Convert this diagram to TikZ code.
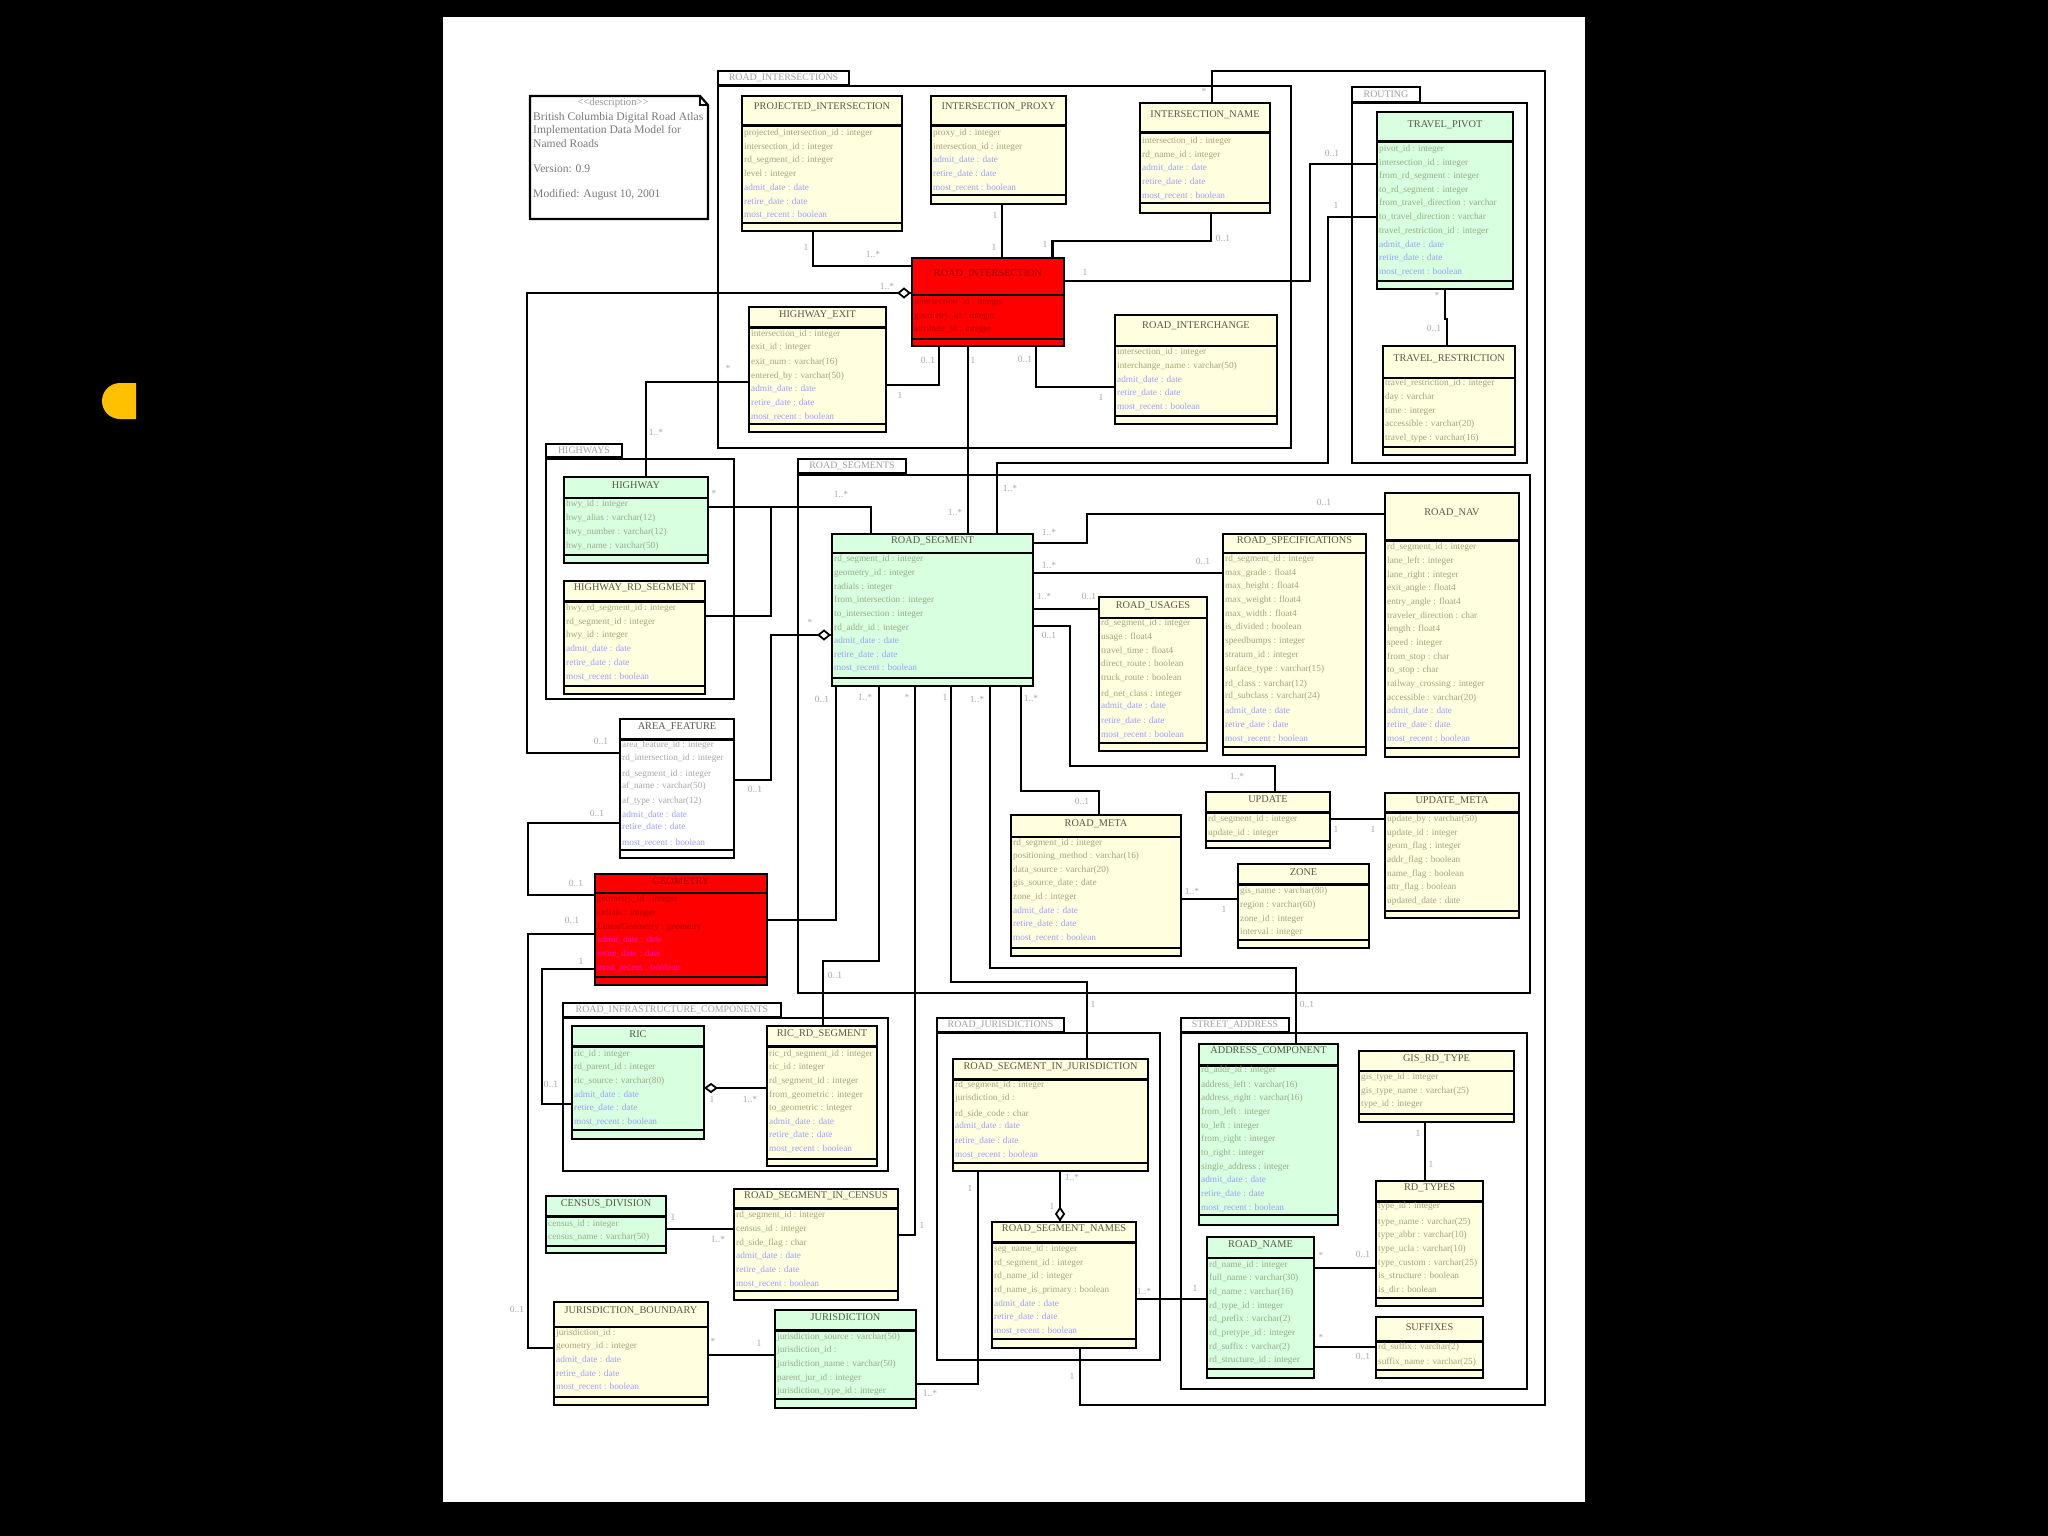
\documentclass[tikz,border=0pt]{standalone}
\usepackage{fontspec}
\setmainfont{Liberation Serif}
\usetikzlibrary{shapes.geometric}
\definecolor{yelf}{HTML}{FFFFE0}
\definecolor{grnf}{HTML}{D8FFE0}
\definecolor{yatt}{HTML}{A4A482}
\definecolor{gatt}{HTML}{98AC88}
\definecolor{watt}{HTML}{A8A8A8}
\definecolor{ratt}{HTML}{B00000}
\definecolor{badm}{HTML}{9C9CFF}
\definecolor{radm}{HTML}{F000F0}
\definecolor{ttlc}{HTML}{58584A}
\definecolor{rttl}{HTML}{980000}
\definecolor{lblc}{HTML}{A8A8A8}
\definecolor{pkgc}{HTML}{A0A0A0}
\tikzset{
  classbox/.style={rectangle,draw=black,line width=2.4pt,inner sep=0pt,outer sep=0pt},
  pkgbox/.style={rectangle,draw=black,line width=2.2pt,inner sep=0pt,outer sep=0pt},
  conn/.style={draw=black,line width=2.1pt,line cap=butt,line join=miter},
  aggr/.style={diamond,draw=black,line width=1.8pt,fill=white,inner sep=0pt,outer sep=0pt},
  ttl/.style={inner sep=0pt,font=\fontsize{10.3}{11}\selectfont},
  atr/.style={inner sep=0pt,anchor=west,font=\fontsize{9.3}{10}\selectfont},
  lbl/.style={inner sep=0pt,text=lblc,font=\fontsize{9.5}{10}\selectfont},
  pkgt/.style={text=pkgc,font=\fontsize{9.9}{11}\selectfont},
  notet/.style={inner sep=0pt,anchor=west,text=black!52,font=\fontsize{11.6}{13}\selectfont}
}
\newcount\txtn
\newcommand\nexttxt{\global\advance\txtn by 1 }
\newcommand\themeY{\def\fc{yelf}\def\ac{yatt}\def\dc{badm}\def\tc{ttlc}}
\newcommand\themeG{\def\fc{grnf}\def\ac{gatt}\def\dc{badm}\def\tc{ttlc}}
\newcommand\themeW{\def\fc{white}\def\ac{watt}\def\dc{badm}\def\tc{ttlc}}
\newcommand\themeR{\def\fc{red}\def\ac{ratt}\def\dc{radm}\def\tc{rttl}}
\def\tlw{3pt}
\newcommand\thinT{\def\tlw{1.6pt}}
\newcommand\cls[9][\themeY]{#1\def\cn{#2}\def\xa{#3}\def\ya{#4}\def\xb{#5}\def\yb{#6}\def\ty{#7}\def\ly{#8}\def\by{#9}\clsB}
\newcommand\clsB[2]{%
  \node[classbox,fill=\fc,minimum width={(\xb-\xa)*1pt},minimum height={(\yb-\ya)*1pt}] (\cn) at ({(\xa+\xb)/2},{(\ya+\yb)/2}) {};
  \draw[black,line width=\tlw] (\cn.west |- 0,\ly) -- (\cn.east |- 0,\ly);
  \draw[black,line width=1.8pt] (\cn.west |- 0,\by) -- (\cn.east |- 0,\by);
  \nexttxt\node[ttl,text=\tc] (t\the\txtn) at (\cn.north |- 0,\ty) {#1};
  #2
  \def\tlw{3pt}}
\newcommand\ATR[2]{\nexttxt\node[atr,text=\ac] (t\the\txtn) at ({\xa+2},#1) {#2};}
\newcommand\ADM[2]{\nexttxt\node[atr,text=\dc] (t\the\txtn) at ({\xa+2},#1) {#2};}
\newcommand\ADMS[3]{\ADM{#1}{admit\_date : date}\ADM{#2}{retire\_date : date}\ADM{#3}{most\_recent : boolean}}
\newcommand\pkg[9]{% name tab x0 y0 x1 y1, body x1 ytop ybottom, title
  \node[pkgbox,fill=white,minimum width={(#4-#2)*1pt},minimum height={(#5-#3)*1pt},pkgt] (#1tab) at ({(#2+#4)/2},{(#3+#5)/2}) {#9};
  \node[pkgbox,minimum width={(#6-#2)*1pt},minimum height={(#8-#7)*1pt}] (#1) at ({(#2+#6)/2},{(#7+#8)/2}) {};}
\newcommand\LB[3]{\nexttxt\node[lbl] (t\the\txtn) at (#1,#2) {#3};}
\begin{document}
\catcode`\_=12
\begin{tikzpicture}[x=1pt,y=-1pt]
\useasboundingbox (0,0) rectangle (2048,1536);
\fill[black] (0,0) rectangle (2048,1536);
\fill[white] (443,17) rectangle (1585,1502);
\definecolor{blobc}{HTML}{FFC000}
\fill[blobc] (136,383) -- (120,383) arc[start angle=270,end angle=90,radius=18] -- (136,419) -- cycle;

% note
\draw[black,line width=2.2pt,fill=white] (530,96) -- (700,96) -- (708,105) -- (708,219) -- (530,219) -- cycle;
\draw[black,line width=1.6pt] (700,96) -- (700,105) -- (708,105);
\node[inner sep=0pt,text=black!42,font=\fontsize{10.6}{12}\selectfont] (n0) at (613,103) {{<}{<}description{>}{>}};
\node[notet] (n1) at (533,118) {British Columbia Digital Road Atlas};
\node[notet] (n2) at (533,131) {Implementation Data Model for};
\node[notet] (n3) at (533,144) {Named Roads};
\node[notet] (n4) at (533,169) {Version: 0.9};
\node[notet] (n5) at (533,195) {Modified: August 10, 2001};

% packages
\pkg{pkint}{718}{71}{849}{85}{1291}{86}{448}{ROAD_INTERSECTIONS}
\pkg{pkrout}{1352}{87}{1420}{102}{1527}{103}{463}{ROUTING}
\pkg{pkhwy}{546}{444}{622}{457}{734}{459}{699}{HIGHWAYS}
\pkg{pkseg}{798}{459}{906}{473}{1530}{475}{993}{ROAD_SEGMENTS}
\pkg{pkinf}{563}{1003}{781}{1017}{888}{1018}{1171}{ROAD_INFRASTRUCTURE_COMPONENTS}
\pkg{pkjur}{937}{1018}{1064}{1032}{1160}{1033}{1360}{ROAD_JURISDICTIONS}
\pkg{pkadr}{1181}{1018}{1289}{1032}{1527}{1033}{1389}{STREET_ADDRESS}

% classes
\cls{cPI}{742}{96}{902}{231}{107}{126}{223}{PROJECTED_INTERSECTION}{\ATR{133}{projected_intersection_id : integer}\ATR{147}{intersection_id : integer}\ATR{160}{rd_segment_id : integer}\ATR{174}{level : integer}\ADMS{188}{202}{215}}
\cls{cPX}{931}{96}{1066}{204}{107}{126}{195}{INTERSECTION_PROXY}{\ATR{133}{proxy_id : integer}\ATR{147}{intersection_id : integer}\ADMS{160}{174}{188}}
\cls{cIN}{1140}{103}{1270}{213}{115}{133}{203}{INTERSECTION_NAME}{\ATR{141}{intersection_id : integer}\ATR{155}{rd_name_id : integer}\ADMS{168}{182}{196}}
\thinT\cls[\themeR]{cRI}{912}{258}{1064}{346}{274}{295}{339}{ROAD_INTERSECTION}{\ATR{302}{intersection_id : integer}\ATR{316}{geometry_id : integer}\ATR{329}{attribute_id : integer}}
\cls{cHE}{749}{307}{886}{432}{315}{327}{424}{HIGHWAY_EXIT}{\ATR{334}{intersection_id : integer}\ATR{347}{exit_id : integer}\ATR{362}{exit_num : varchar(16)}\ATR{376}{entered_by : varchar(50)}\ADMS{389}{403}{417}}
\thinT\cls{cIC}{1115}{315}{1277}{424}{326}{346}{416}{ROAD_INTERCHANGE}{\ATR{352}{intersection_id : integer}\ATR{366}{interchange_name : varchar(50)}\ADMS{380}{393}{407}}
\cls[\themeG]{cTP}{1377}{112}{1513}{289}{125}{142}{281}{TRAVEL_PIVOT}{\ATR{149}{pivot_id : integer}\ATR{163}{intersection_id : integer}\ATR{176}{from_rd_segment : integer}\ATR{190}{to_rd_segment : integer}\ATR{203}{from_travel_direction : varchar}\ATR{217}{to_travel_direction : varchar}\ATR{231}{travel_restriction_id : integer}\ADMS{245}{258}{272}}
\thinT\cls{cTR}{1383}{346}{1515}{455}{359}{378}{447}{TRAVEL_RESTRICTION}{\ATR{383}{travel_restriction_id : integer}\ATR{397}{day : varchar}\ATR{411}{time : integer}\ATR{424}{accessible : varchar(20)}\ATR{438}{travel_type : varchar(16)}}
\thinT\cls[\themeG]{cHW}{564}{477}{708}{563}{485}{498}{555}{HIGHWAY}{\ATR{504}{hwy_id : integer}\ATR{518}{hwy_alias : varchar(12)}\ATR{532}{hwy_number : varchar(12)}\ATR{546}{hwy_name : varchar(50)}}
\cls{cHS}{564}{581}{705}{694}{588}{601}{686}{HIGHWAY_RD_SEGMENT}{\ATR{608}{hwy_rd_segment_id : integer}\ATR{622}{rd_segment_id : integer}\ATR{635}{hwy_id : integer}\ADMS{649}{663}{677}}
\thinT\cls[\themeG]{cRS}{832}{534}{1033}{686}{541}{553}{678}{ROAD_SEGMENT}{\ATR{559}{rd_segment_id : integer}\ATR{573}{geometry_id : integer}\ATR{587}{radials : integer}\ATR{600}{from_intersection : integer}\ATR{614}{to_intersection : integer}\ATR{628}{rd_addr_id : integer}\ADMS{641}{655}{668}}
\cls[\themeW]{cAF}{620}{719}{734}{858}{727}{739}{850}{AREA_FEATURE}{\ATR{745}{area_feature_id : integer}\ATR{758}{rd_intersection_id : integer}\ATR{774}{rd_segment_id : integer}\ATR{786}{af_name : varchar(50)}\ATR{801}{af_type : varchar(12)}\ADMS{815}{827}{843}}
\cls{cRN}{1385}{493}{1519}{757}{513}{540}{748}{ROAD_NAV}{\ATR{547}{rd_segment_id : integer}\ATR{561}{lane_left : integer}\ATR{575}{lane_right : integer}\ATR{588}{exit_angle : float4}\ATR{602}{entry_angle : float4}\ATR{616}{traveler_direction : char}\ATR{629}{length : float4}\ATR{643}{speed : integer}\ATR{657}{from_stop : char}\ATR{670}{to_stop : char}\ATR{684}{railway_crossing : integer}\ATR{698}{accessible : varchar(20)}\ADMS{711}{725}{739}}
\thinT\cls{cSP}{1223}{534}{1366}{755}{541}{553}{747}{ROAD_SPECIFICATIONS}{\ATR{559}{rd_segment_id : integer}\ATR{573}{max_grade : float4}\ATR{586}{max_height : float4}\ATR{600}{max_weight : float4}\ATR{614}{max_width : float4}\ATR{627}{is_divided : boolean}\ATR{641}{speedbumps : integer}\ATR{655}{stratum_id : integer}\ATR{669}{surface_type : varchar(15)}\ATR{684}{rd_class : varchar(12)}\ATR{696}{rd_subclass : varchar(24)}\ADMS{711}{725}{739}}
\thinT\cls{cUS}{1099}{597}{1207}{751}{606}{618}{743}{ROAD_USAGES}{\ATR{623}{rd_segment_id : integer}\ATR{637}{usage : float4}\ATR{651}{travel_time : float4}\ATR{664}{direct_route : boolean}\ATR{678}{truck_route : boolean}\ATR{694}{rd_net_class : integer}\ADMS{706}{721}{735}}
\cls{cUP}{1206}{792}{1330}{848}{799}{812}{841}{UPDATE}{\ATR{819}{rd_segment_id : integer}\ATR{833}{update_id : integer}}
\cls{cUM}{1385}{793}{1519}{918}{801}{812}{911}{UPDATE_META}{\ATR{819}{update_by : varchar(50)}\ATR{833}{update_id : integer}\ATR{846}{geom_flag : integer}\ATR{860}{addr_flag : boolean}\ATR{874}{name_flag : boolean}\ATR{887}{attr_flag : boolean}\ATR{901}{updated_date : date}}
\cls{cZN}{1238}{864}{1369}{948}{872}{884}{940}{ZONE}{\ATR{891}{gis_name : varchar(80)}\ATR{905}{region : varchar(60)}\ATR{919}{zone_id : integer}\ATR{932}{interval : integer}}
\thinT\cls{cRM}{1011}{815}{1181}{956}{824}{837}{948}{ROAD_META}{\ATR{843}{rd_segment_id : integer}\ATR{856}{positioning_method : varchar(16)}\ATR{870}{data_source : varchar(20)}\ATR{883}{gis_source_date : date}\ATR{897}{zone_id : integer}\ADMS{911}{924}{938}}
\thinT\cls[\themeR]{cGE}{595}{874}{767}{985}{881}{893}{977}{GEOMETRY}{\ATR{899}{geometry_id : integer}\ATR{913}{radials : integer}\ATR{927}{LinearGeometry : geometry}\ADMS{940}{954}{968}}
\cls[\themeG]{cRC}{572}{1026}{704}{1139}{1034}{1046}{1130}{RIC}{\ATR{1054}{ric_id : integer}\ATR{1067}{rd_parent_id : integer}\ATR{1081}{ric_source : varchar(80)}\ADMS{1095}{1108}{1122}}
\cls{cRR}{767}{1026}{877}{1166}{1034}{1046}{1159}{RIC_RD_SEGMENT}{\ATR{1054}{ric_rd_segment_id : integer}\ATR{1067}{ric_id : integer}\ATR{1081}{rd_segment_id : integer}\ATR{1095}{from_geometric : integer}\ATR{1108}{to_geometric : integer}\ADMS{1122}{1135}{1149}}
\cls[\themeG]{cCD}{546}{1196}{666}{1253}{1204}{1216}{1246}{CENSUS_DIVISION}{\ATR{1224}{census_id : integer}\ATR{1237}{census_name : varchar(50)}}
\cls{cSC}{734}{1189}{898}{1300}{1196}{1208}{1291}{ROAD_SEGMENT_IN_CENSUS}{\ATR{1215}{rd_segment_id : integer}\ATR{1229}{census_id : integer}\ATR{1243}{rd_side_flag : char}\ADMS{1256}{1270}{1284}}
\thinT\cls{cJB}{554}{1302}{708}{1405}{1311}{1327}{1397}{JURISDICTION_BOUNDARY}{\ATR{1333}{jurisdiction_id :}\ATR{1346}{geometry_id : integer}\ADMS{1360}{1374}{1387}}
\cls[\themeG]{cJU}{775}{1310}{916}{1408}{1317}{1330}{1399}{JURISDICTION}{\ATR{1337}{jurisdiction_source : varchar(50)}\ATR{1350}{jurisdiction_id :}\ATR{1364}{jurisdiction_name : varchar(50)}\ATR{1378}{parent_jur_id : integer}\ATR{1391}{jurisdiction_type_id : integer}}
\cls{cSJ}{953}{1059}{1148}{1171}{1067}{1079}{1163}{ROAD_SEGMENT_IN_JURISDICTION}{\ATR{1085}{rd_segment_id : integer}\ATR{1098}{jurisdiction_id :}\ATR{1114}{rd_side_code : char}\ADMS{1126}{1141}{1155}}
\cls{cSN}{992}{1222}{1136}{1348}{1229}{1242}{1339}{ROAD_SEGMENT_NAMES}{\ATR{1249}{seg_name_id : integer}\ATR{1263}{rd_segment_id : integer}\ATR{1276}{rd_name_id : integer}\ATR{1290}{rd_name_is_primary : boolean}\ADMS{1304}{1317}{1331}}
\cls[\themeG]{cAC}{1199}{1044}{1338}{1225}{1051}{1065}{1215}{ADDRESS_COMPONENT}{\ATR{1070}{rd_addr_id : integer}\ATR{1085}{address_left : varchar(16)}\ATR{1098}{address_right : varchar(16)}\ATR{1112}{from_left : integer}\ATR{1126}{to_left : integer}\ATR{1139}{from_right : integer}\ATR{1153}{to_right : integer}\ATR{1167}{single_address : integer}\ADMS{1180}{1194}{1208}}
\thinT\cls{cGT}{1359}{1051}{1514}{1122}{1059}{1071}{1114}{GIS_RD_TYPE}{\ATR{1077}{gis_type_id : integer}\ATR{1091}{gis_type_name : varchar(25)}\ATR{1104}{type_id : integer}}
\cls{cRT}{1376}{1181}{1483}{1306}{1188}{1201}{1298}{RD_TYPES}{\ATR{1206}{type_id : integer}\ATR{1222}{type_name : varchar(25)}\ATR{1235}{type_abbr : varchar(10)}\ATR{1249}{type_ucla : varchar(10)}\ATR{1263}{type_custom : varchar(25)}\ATR{1276}{is_structure : boolean}\ATR{1290}{is_dir : boolean}}
\cls{cSF}{1376}{1317}{1483}{1378}{1327}{1341}{1370}{SUFFIXES}{\ATR{1347}{rd_suffix : varchar(2)}\ATR{1362}{suffix_name : varchar(25)}}
\thinT\cls[\themeG]{cNM}{1207}{1237}{1314}{1378}{1245}{1258}{1369}{ROAD_NAME}{\ATR{1265}{rd_name_id : integer}\ATR{1278}{full_name : varchar(30)}\ATR{1292}{rd_name : varchar(16)}\ATR{1306}{rd_type_id : integer}\ATR{1319}{rd_prefix : varchar(2)}\ATR{1333}{rd_pretype_id : integer}\ATR{1347}{rd_suffix : varchar(2)}\ATR{1360}{rd_structure_id : integer}}

% aggregation diamonds
\node[aggr,minimum width=11pt,minimum height=9pt] (dA) at (904,293) {};
\node[aggr,minimum width=11pt,minimum height=9pt] (dB) at (824,635) {};
\node[aggr,minimum width=11pt,minimum height=8pt] (dC) at (711,1088) {};
\node[aggr,minimum width=8pt,minimum height=12pt] (dD) at (1060,1214) {};
\coordinate (jA) at (771,507);

% connectors
\draw[conn] (cPI.south -| 813,0) -- (813,266) -- (cRI.west |- 0,266);
\draw[conn] (cPX.south -| 1002,0) -- (cRI.north -| 1002,0);
\draw[conn] (cRI.north -| 1052.5,0) -- (1052.5,241) -- (1211,241) -- (cIN.south -| 1211,0);
\draw[conn] (cRI.east |- 0,281) -- (1310,281) -- (1310,164) -- (cTP.west |- 0,164);
\draw[conn] (cRS.north -| 997,0) -- (997,463) -- (1328,463) -- (1328,217) -- (cTP.west |- 0,217);
\draw[conn] (cTP.south -| 1445,0) -- (1445,319) -- (1447,319) -- (cTR.north -| 1447,0);
\draw[conn] (cRI.south -| 1036,0) -- (1036,387) -- (cIC.west |- 0,387);
\draw[conn] (dA.east) -- (cRI.west |- dA);
\draw[conn] (dA.west) -- (527,293) -- (527,753) -- (cAF.west |- 0,753);
\draw[conn] (cHE.west |- 0,382) -- (646,382) -- (cHW.north -| 646,0);
\draw[conn] (cHE.east |- 0,385) -- (939,385) -- (cRI.south -| 939,0);
\draw[conn] (cRI.south -| 968,0) -- (cRS.north -| 968,0);
\draw[conn] (cHW.east |- 0,507) -- (871,507) -- (cRS.north -| 871,0);
\draw[conn] (cHS.east |- 0,616) -- (771,616) -- (jA);
\draw[conn] (dB.east) -- (cRS.west |- dB);
\draw[conn] (dB.west) -- (771,635) -- (771,780) -- (cAF.east |- 0,780);
\draw[conn] (cAF.west |- 0,823) -- (528,823) -- (528,895) -- (cGE.west |- 0,895);
\draw[conn] (cRS.south -| 836,0) -- (836,920) -- (cGE.east |- 0,920);
\draw[conn] (cRS.south -| 879,0) -- (879,961) -- (823,961) -- (cRR.north -| 823,0);
\draw[conn] (cRS.south -| 915,0) -- (915,1235) -- (cSC.east |- 0,1235);
\draw[conn] (cRS.south -| 951,0) -- (951,982) -- (1087,982) -- (cSJ.north -| 1087,0);
\draw[conn] (cRS.south -| 990,0) -- (990,968) -- (1296,968) -- (cAC.north -| 1296,0);
\draw[conn] (cRS.south -| 1021,0) -- (1021,791) -- (1099,791) -- (cRM.north -| 1099,0);
\draw[conn] (cRS.east |- 0,543) -- (1087,543) -- (1087,514) -- (cRN.west |- 0,514);
\draw[conn] (cRS.east |- 0,573) -- (cSP.west |- 0,573);
\draw[conn] (cRS.east |- 0,609) -- (cUS.west |- 0,609);
\draw[conn] (cRS.east |- 0,626) -- (1070,626) -- (1070,766) -- (1275,766) -- (cUP.north -| 1275,0);
\draw[conn] (cUP.east |- 0,819) -- (cUM.west |- 0,819);
\draw[conn] (cRM.east |- 0,899) -- (cZN.west |- 0,899);
\draw[conn] (cGE.west |- 0,934) -- (528,934) -- (528,1348) -- (cJB.west |- 0,1348);
\draw[conn] (cGE.west |- 0,969) -- (542,969) -- (542,1104) -- (cRC.west |- 0,1104);
\draw[conn] (dC.west) -- (cRC.east |- dC);
\draw[conn] (dC.east) -- (cRR.west |- dC);
\draw[conn] (cCD.east |- 0,1229) -- (cSC.west |- 0,1229);
\draw[conn] (cJB.east |- 0,1355) -- (cJU.west |- 0,1355);
\draw[conn] (cJU.east |- 0,1384) -- (978,1384) -- (cSJ.south -| 978,0);
\draw[conn] (cSJ.south -| 1060,0) -- (dD.north);
\draw[conn] (dD.south) -- (cSN.north -| 1060,0);
\draw[conn] (cGT.south -| 1425,0) -- (cRT.north -| 1425,0);
\draw[conn] (cNM.east |- 0,1268) -- (cRT.west |- 0,1268);
\draw[conn] (cNM.east |- 0,1347) -- (cSF.west |- 0,1347);
\draw[conn] (cSN.east |- 0,1299) -- (cNM.west |- 0,1299);
\draw[conn] (cSN.south -| 1080,0) -- (1080,1405) -- (1545,1405) -- (1545,71) -- (1212,71) -- (cIN.north -| 1212,0);

% multiplicity labels
\LB{806}{247}{1}\LB{873}{254}{1..*}\LB{995}{215}{1}\LB{994}{247}{1}
\LB{887}{286}{1..*}\LB{728}{368}{*}\LB{656}{432}{1..*}\LB{900}{395}{1}\LB{928}{360}{0..1}\LB{973}{360}{1}
\LB{1045}{244}{1}\LB{1223}{238}{0..1}\LB{1085}{272}{1}\LB{1332}{153}{0..1}\LB{1336}{205}{1}\LB{1204}{91}{*}
\LB{1437}{295}{*}\LB{1434}{328}{0..1}\LB{1025}{359}{0..1}\LB{1101}{397}{1}
\LB{1010}{488}{1..*}\LB{955}{512}{1..*}\LB{714}{493}{*}\LB{841}{494}{1..*}\LB{810}{622}{*}\LB{755}{789}{0..1}
\LB{601}{741}{0..1}\LB{597}{813}{0..1}\LB{576}{883}{0..1}
\LB{822}{699}{0..1}\LB{865}{697}{1..*}\LB{907}{697}{*}\LB{945}{697}{1}\LB{977}{699}{1..*}\LB{1031}{698}{1..*}
\LB{1049}{532}{1..*}\LB{1324}{502}{0..1}\LB{1049}{565}{1..*}\LB{1203}{561}{0..1}\LB{1044}{596}{1..*}\LB{1089}{596}{0..1}
\LB{1049}{635}{0..1}\LB{1237}{776}{1..*}\LB{1336}{829}{1}\LB{1373}{829}{1}\LB{1192}{891}{1..*}\LB{1224}{909}{1}\LB{1082}{801}{0..1}
\LB{572}{920}{0..1}\LB{517}{1309}{0..1}\LB{581}{961}{1}\LB{551}{1084}{0..1}\LB{835}{975}{0..1}
\LB{712}{1099}{1}\LB{750}{1099}{1..*}\LB{673}{1217}{1}\LB{718}{1239}{1..*}\LB{922}{1225}{1}
\LB{713}{1341}{*}\LB{759}{1343}{1}\LB{930}{1393}{1..*}\LB{970}{1188}{1}
\LB{1093}{1004}{1}\LB{1307}{1004}{0..1}\LB{1072}{1177}{1..*}\LB{1052}{1206}{1}
\LB{1418}{1133}{1}\LB{1431}{1164}{1}\LB{1321}{1255}{*}\LB{1363}{1254}{0..1}\LB{1321}{1337}{*}\LB{1363}{1356}{0..1}
\LB{1144}{1291}{1..*}\LB{1195}{1288}{1}\LB{1072}{1376}{1}
\end{tikzpicture}
\end{document}
